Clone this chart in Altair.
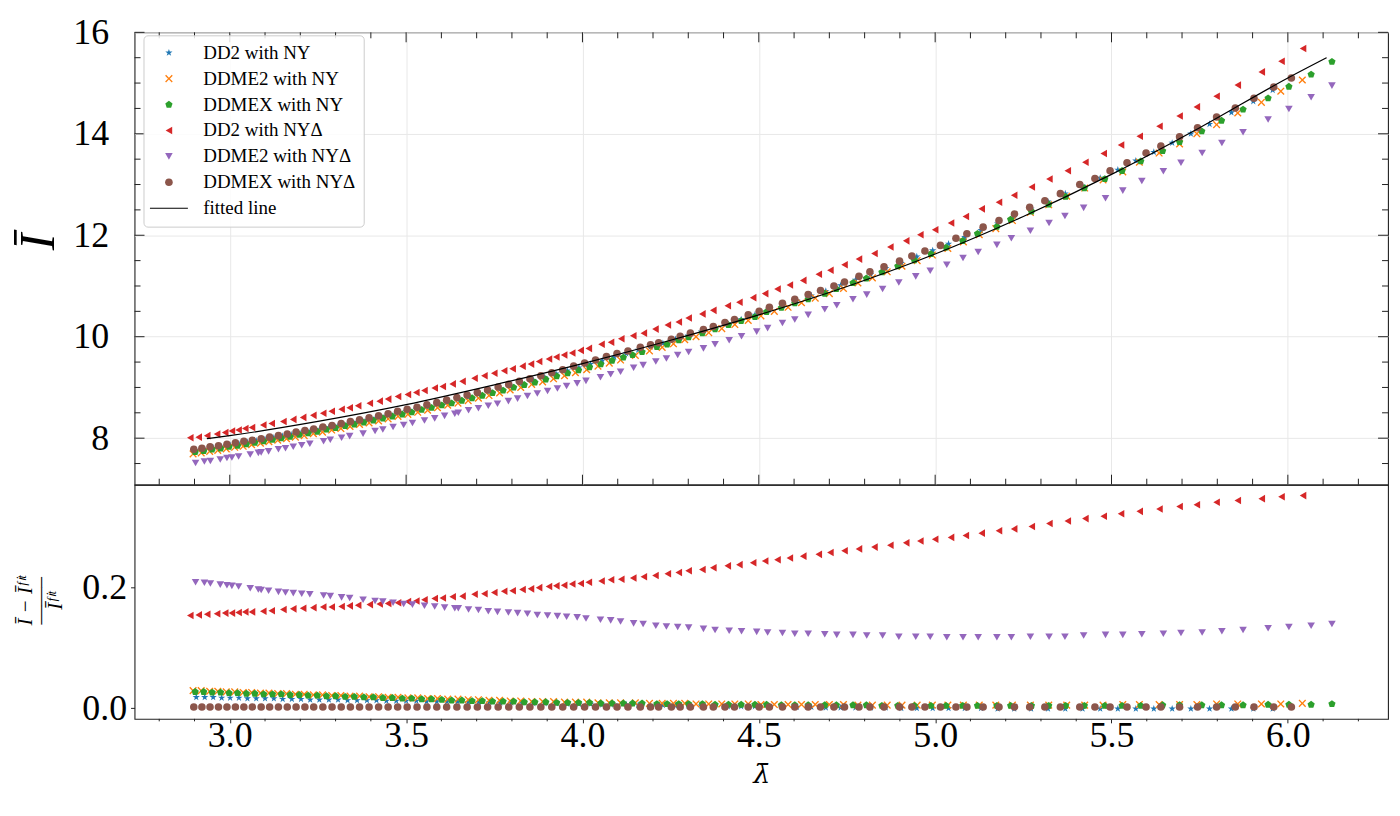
import altair as alt
import pandas as pd

SERIF = "Liberation Serif"
FRAME = "#222222"

SERIES = ["DD2 with NY", "DDME2 with NY", "DDMEX with NY",
          "DD2 with NYΔ", "DDME2 with NYΔ", "DDMEX with NYΔ", "fitted line"]
COLORS = ["#1f77b4", "#ff7f0e", "#2ca02c", "#d62728", "#9467bd", "#8c564b", "#000000"]

STAR = "M0,-1L0.2245,-0.309L0.951,-0.309L0.363,0.118L0.588,0.809L0,0.382L-0.588,0.809L-0.363,0.118L-0.951,-0.309L-0.2245,-0.309Z"
XMARK = "M-1,-0.75L-0.75,-1L0,-0.25L0.75,-1L1,-0.75L0.25,0L1,0.75L0.75,1L0,0.25L-0.75,1L-1,0.75L-0.25,0Z"
PENT = "M0,-1L0.951,-0.309L0.588,0.809L-0.588,0.809L-0.951,-0.309Z"
LINE = "M-5,-0.12L5,-0.12L5,0.12L-5,0.12Z"
SHAPES = [STAR, XMARK, PENT, "triangle-left", "triangle-down", "circle", LINE]

# ---------------- DD2 with NY (blue) ----------------
BLUE_LAM = [2.905, 2.929, 2.953, 2.977, 3.001, 3.026, 3.050, 3.075, 3.100, 3.125,
            3.150, 3.176, 3.202, 3.228, 3.254, 3.281, 3.307, 3.334, 3.361, 3.389,
            3.416, 3.444, 3.472, 3.500, 3.529, 3.558, 3.587, 3.616, 3.646, 3.676,
            3.706, 3.736, 3.767, 3.798, 3.829, 3.861, 3.893, 3.925, 3.957, 3.990,
            4.023, 4.056, 4.090, 4.124, 4.158,
            4.193, 4.228, 4.264, 4.300, 4.337, 4.374, 4.412, 4.450, 4.489, 4.528,
            4.568, 4.608, 4.649, 4.690, 4.732, 4.774, 4.817, 4.860, 4.904, 4.948,
            4.993, 5.038, 5.084, 5.130, 5.177, 5.224, 5.272, 5.320, 5.369, 5.418,
            5.468, 5.518, 5.569, 5.620, 5.672, 5.725, 5.778, 5.840, 5.902, 5.957]
BLUE_I = [7.76, 7.78, 7.81, 7.83, 7.86, 7.89, 7.92, 7.95, 7.98, 8.01,
          8.04, 8.07, 8.10, 8.14, 8.17, 8.21, 8.24, 8.28, 8.32, 8.36,
          8.40, 8.44, 8.48, 8.53, 8.57, 8.62, 8.67, 8.71, 8.76, 8.81,
          8.86, 8.92, 8.97, 9.03, 9.08, 9.14, 9.20, 9.27, 9.33, 9.39,
          9.46, 9.53, 9.60, 9.67, 9.74,
          9.80, 9.87, 9.95, 10.02, 10.10, 10.18, 10.26, 10.34, 10.43, 10.53,
          10.62, 10.71, 10.81, 10.90, 11.01, 11.12, 11.23, 11.35, 11.45, 11.58,
          11.70, 11.83, 11.96, 12.10, 12.23, 12.38, 12.52, 12.66, 12.82, 12.97,
          13.13, 13.29, 13.47, 13.64, 13.82, 14.00, 14.19, 14.42, 14.64, 14.86]
BLUE_RES = [0.018, 0.018, 0.018, 0.017, 0.017, 0.017, 0.016, 0.016, 0.016, 0.016,
            0.015, 0.015, 0.015, 0.014, 0.014, 0.014, 0.014, 0.013, 0.013, 0.013,
            0.013, 0.012, 0.012, 0.012, 0.012, 0.011, 0.011, 0.011, 0.011, 0.010,
            0.010, 0.010, 0.009, 0.009, 0.009, 0.008, 0.008, 0.008, 0.007, 0.007,
            0.007, 0.006, 0.006, 0.006, 0.005,
            0.005, 0.005, 0.004, 0.004, 0.004, 0.003, 0.003, 0.003, 0.003, 0.002,
            0.002, 0.002, 0.002, 0.001, 0.001, 0.001, 0.001, 0.001, 0.000, 0.000,
            0.000, 0.000, 0.000, 0.000, -0.001, -0.001, -0.001, -0.001, -0.001, -0.001,
            -0.001, -0.001, -0.001, -0.001, -0.001, -0.001, -0.001, -0.001, -0.001, -0.001]

# ---------------- DDME2 with NY (orange) ----------------
ORANGE_LAM = [2.896, 2.919, 2.943, 2.966, 2.990, 3.014, 3.038, 3.062, 3.087, 3.111,
              3.136, 3.161, 3.186, 3.211, 3.237, 3.263, 3.289, 3.315, 3.341, 3.368,
              3.395, 3.422, 3.449, 3.477, 3.505, 3.533, 3.561, 3.589, 3.618, 3.647,
              3.676, 3.705, 3.735, 3.765, 3.795, 3.825, 3.856, 3.887, 3.918, 3.949,
              3.980, 4.012, 4.044, 4.076, 4.108,
              4.150, 4.190, 4.226, 4.258, 4.290, 4.322, 4.358, 4.395, 4.432, 4.470,
              4.506, 4.544, 4.583, 4.621, 4.660, 4.700, 4.740, 4.781, 4.822, 4.864,
              4.906, 4.949, 4.992, 5.036, 5.080, 5.125, 5.172,
              5.219, 5.270, 5.322, 5.373, 5.424, 5.476, 5.532, 5.579, 5.635, 5.693,
              5.742, 5.798, 5.858, 5.925, 5.980, 6.041]
ORANGE_I = [7.69, 7.71, 7.74, 7.76, 7.79, 7.82, 7.84, 7.87, 7.90, 7.93,
            7.96, 7.99, 8.02, 8.05, 8.09, 8.12, 8.16, 8.19, 8.23, 8.27,
            8.30, 8.34, 8.38, 8.43, 8.47, 8.51, 8.55, 8.60, 8.65, 8.69,
            8.74, 8.79, 8.84, 8.89, 8.95, 9.00, 9.06, 9.11, 9.17, 9.23,
            9.29, 9.35, 9.42, 9.48, 9.54,
            9.63, 9.72, 9.79, 9.86, 9.94, 10.00, 10.08, 10.16, 10.24, 10.32,
            10.41, 10.50, 10.58, 10.67, 10.76, 10.85, 10.95, 11.06, 11.16, 11.28,
            11.39, 11.50, 11.61, 11.74, 11.87, 12.01, 12.13,
            12.29, 12.45, 12.60, 12.77, 12.93, 13.09, 13.25, 13.44, 13.62, 13.80,
            14.00, 14.18, 14.41, 14.62, 14.84, 15.06]
ORANGE_RES = [0.029, 0.029, 0.028, 0.028, 0.027, 0.027, 0.026, 0.026, 0.025, 0.025,
              0.024, 0.024, 0.023, 0.023, 0.022, 0.022, 0.021, 0.021, 0.020, 0.020,
              0.019, 0.019, 0.018, 0.018, 0.017, 0.017, 0.016, 0.016, 0.015, 0.015,
              0.014, 0.014, 0.013, 0.013, 0.012, 0.012, 0.011, 0.011, 0.011, 0.010,
              0.010, 0.010, 0.009, 0.009, 0.009,
              0.009, 0.008, 0.008, 0.008, 0.008, 0.007, 0.007, 0.007, 0.007, 0.007,
              0.006, 0.006, 0.006, 0.006, 0.006, 0.006, 0.006, 0.005, 0.005, 0.005,
              0.005, 0.005, 0.005, 0.005, 0.005, 0.005, 0.005,
              0.005, 0.005, 0.005, 0.005, 0.005, 0.005, 0.006, 0.006, 0.006, 0.006,
              0.006, 0.007, 0.007, 0.007, 0.007, 0.008]

# ---------------- DDMEX with NY (green) ----------------
GREEN_LAM = [2.902, 2.926, 2.950, 2.974, 2.998, 3.022, 3.047, 3.071, 3.096, 3.121,
             3.146, 3.171, 3.197, 3.222, 3.248, 3.274, 3.300, 3.327, 3.353, 3.380,
             3.407, 3.434, 3.461, 3.489, 3.516, 3.544, 3.572, 3.601, 3.629, 3.658,
             3.687, 3.716, 3.745, 3.775, 3.805, 3.835, 3.865, 3.896, 3.927, 3.958,
             3.989, 4.020, 4.052, 4.084, 4.116, 4.142,
             4.169, 4.211, 4.240, 4.273, 4.301, 4.340, 4.376, 4.414, 4.450, 4.489,
             4.522, 4.564, 4.602, 4.640, 4.687, 4.720, 4.767, 4.805, 4.849, 4.894,
             4.941, 4.988, 5.031, 5.078, 5.120, 5.175,
             5.214, 5.273, 5.322, 5.370, 5.423, 5.481, 5.530, 5.583, 5.645, 5.693,
             5.756, 5.812, 5.873, 5.944, 6.003, 6.066, 6.125]
GREEN_I = [7.73, 7.75, 7.78, 7.80, 7.83, 7.85, 7.88, 7.91, 7.94, 7.97,
           8.00, 8.03, 8.07, 8.10, 8.13, 8.17, 8.20, 8.24, 8.27, 8.31,
           8.35, 8.39, 8.43, 8.47, 8.51, 8.56, 8.60, 8.65, 8.69, 8.74,
           8.79, 8.84, 8.89, 8.94, 9.00, 9.05, 9.10, 9.16, 9.22, 9.28,
           9.34, 9.40, 9.46, 9.53, 9.59, 9.64,
           9.70, 9.80, 9.85, 9.93, 9.99, 10.07, 10.15, 10.23, 10.31, 10.39,
           10.49, 10.57, 10.66, 10.74, 10.85, 10.94, 11.06, 11.15, 11.27, 11.39,
           11.51, 11.63, 11.76, 11.89, 12.03, 12.17,
           12.31, 12.47, 12.61, 12.76, 12.93, 13.11, 13.27, 13.46, 13.66, 13.84,
           14.05, 14.26, 14.48, 14.70, 14.93, 15.17, 15.42]
GREEN_RES = [0.027, 0.027, 0.026, 0.026, 0.025, 0.025, 0.024, 0.024, 0.023, 0.023,
             0.023, 0.022, 0.022, 0.021, 0.021, 0.020, 0.020, 0.019, 0.019, 0.018,
             0.018, 0.017, 0.017, 0.016, 0.016, 0.015, 0.015, 0.014, 0.013, 0.013,
             0.012, 0.012, 0.011, 0.011, 0.011, 0.010, 0.010, 0.010, 0.009, 0.009,
             0.009, 0.009, 0.008, 0.008, 0.008, 0.008, 0.008, 0.007, 0.007, 0.007,
             0.007, 0.007, 0.006, 0.006, 0.006, 0.006, 0.006, 0.005, 0.005, 0.005,
             0.005, 0.005, 0.005, 0.005, 0.004, 0.004, 0.004, 0.004, 0.004, 0.004,
             0.004, 0.004, 0.004, 0.004, 0.004, 0.004, 0.004, 0.004, 0.004, 0.004,
             0.005, 0.005, 0.005, 0.005, 0.005, 0.006, 0.006, 0.006, 0.007]

# ---------------- DD2 with NYΔ (red) ----------------
RED_LAM = [2.888, 2.912, 2.936, 2.964, 2.987, 3.006, 3.025, 3.044, 3.063, 3.095,
           3.119, 3.152, 3.180, 3.208, 3.237, 3.265, 3.289, 3.317, 3.340, 3.364,
           3.397, 3.425, 3.449, 3.477, 3.505, 3.529, 3.552, 3.581, 3.604, 3.632,
           3.660, 3.694, 3.722, 3.750, 3.778, 3.802, 3.830, 3.854, 3.877, 3.905,
           3.926, 3.948, 3.971, 3.995,
           4.018, 4.054, 4.081, 4.110, 4.144, 4.174, 4.207, 4.242, 4.273, 4.301,
           4.340, 4.371, 4.412, 4.445, 4.484, 4.518, 4.553, 4.588, 4.626, 4.670,
           4.703, 4.743, 4.784, 4.828, 4.873, 4.918, 4.958, 5.000, 5.045, 5.087,
           5.132, 5.181, 5.224,
           5.274, 5.324, 5.376, 5.426, 5.478, 5.527, 5.580, 5.636, 5.693, 5.742,
           5.798, 5.858, 5.926, 5.982, 6.043]
RED_I = [8.01, 8.02, 8.05, 8.08, 8.11, 8.14, 8.16, 8.19, 8.21, 8.26,
         8.29, 8.33, 8.37, 8.41, 8.45, 8.49, 8.53, 8.57, 8.60, 8.64,
         8.69, 8.73, 8.77, 8.82, 8.86, 8.90, 8.94, 8.99, 9.02, 9.07,
         9.12, 9.18, 9.23, 9.28, 9.33, 9.37, 9.42, 9.46, 9.51, 9.56,
         9.60, 9.64, 9.68, 9.73,
         9.77, 9.85, 9.89, 9.96, 10.02, 10.07, 10.15, 10.23, 10.29, 10.37,
         10.45, 10.52, 10.61, 10.68, 10.77, 10.85, 10.94, 11.02, 11.11, 11.23,
         11.31, 11.42, 11.53, 11.64, 11.77, 11.89, 12.01, 12.11, 12.24, 12.37,
         12.52, 12.65, 12.79,
         12.95, 13.11, 13.27, 13.44, 13.61, 13.78, 13.95, 14.15, 14.35, 14.53,
         14.74, 14.96, 15.22, 15.43, 15.68]
RED_RES = [0.153, 0.154, 0.155, 0.156, 0.157, 0.157, 0.158, 0.159, 0.159, 0.160,
           0.161, 0.163, 0.164, 0.165, 0.166, 0.167, 0.167, 0.168, 0.169, 0.170,
           0.171, 0.172, 0.173, 0.174, 0.176, 0.177, 0.179, 0.181, 0.182, 0.184,
           0.185, 0.188, 0.189, 0.191, 0.193, 0.194, 0.196, 0.197, 0.199, 0.201,
           0.202, 0.203, 0.205, 0.206,
           0.208, 0.210, 0.212, 0.213, 0.215, 0.217, 0.219, 0.222, 0.224, 0.227,
           0.229, 0.232, 0.235, 0.237, 0.240, 0.243, 0.245, 0.248, 0.251, 0.254,
           0.257, 0.260, 0.263, 0.266, 0.269, 0.273, 0.276, 0.279, 0.282, 0.285,
           0.289, 0.293, 0.296,
           0.300, 0.305, 0.309, 0.313, 0.317, 0.321, 0.325, 0.329, 0.333, 0.336,
           0.340, 0.343, 0.346, 0.349, 0.351]

# ---------------- DDME2 with NYΔ (purple) ----------------
PURPLE_LAM = [2.903, 2.928, 2.945, 2.973, 2.992, 3.006, 3.025, 3.058, 3.081, 3.089,
              3.110, 3.138, 3.158, 3.180, 3.204, 3.227, 3.266, 3.285, 3.317, 3.340,
              3.378, 3.412, 3.434, 3.463, 3.493, 3.518, 3.552, 3.581, 3.609, 3.638,
              3.648, 3.677, 3.705, 3.733, 3.759, 3.790, 3.816, 3.844, 3.872, 3.901,
              3.929, 3.955, 3.985, 4.010, 4.051, 4.080, 4.108, 4.145,
              4.172, 4.208, 4.238, 4.270,
              4.301, 4.343, 4.376, 4.416, 4.451, 4.494, 4.525, 4.567, 4.602, 4.640,
              4.687, 4.721, 4.767, 4.806, 4.851, 4.897, 4.945, 4.986, 5.033, 5.079,
              5.122, 5.175, 5.216, 5.270, 5.323, 5.368, 5.421, 5.483, 5.532, 5.586,
              5.647, 5.697, 5.757, 5.813, 5.873, 5.944, 6.003, 6.066, 6.125]
PURPLE_I = [7.51, 7.54, 7.55, 7.58, 7.61, 7.62, 7.64, 7.68, 7.71, 7.72,
            7.74, 7.78, 7.80, 7.83, 7.86, 7.89, 7.94, 7.97, 8.01, 8.04,
            8.09, 8.14, 8.17, 8.22, 8.26, 8.30, 8.35, 8.39, 8.44, 8.48,
            8.50, 8.55, 8.59, 8.64, 8.68, 8.73, 8.78, 8.83, 8.88, 8.93,
            8.98, 9.03, 9.08, 9.13, 9.20, 9.26, 9.31, 9.39,
            9.44, 9.51, 9.57, 9.64,
            9.70, 9.77, 9.85, 9.93, 10.01, 10.10, 10.17, 10.27, 10.34, 10.43,
            10.54, 10.62, 10.74, 10.83, 10.94, 11.07, 11.19, 11.30, 11.42, 11.55,
            11.67, 11.81, 11.94, 12.09, 12.24, 12.38, 12.54, 12.73, 12.88, 13.07,
            13.26, 13.43, 13.62, 13.82, 14.03, 14.28, 14.49, 14.72, 14.95]
PURPLE_RES = [0.208, 0.207, 0.206, 0.204, 0.203, 0.202, 0.201, 0.198, 0.196, 0.195,
              0.194, 0.192, 0.191, 0.190, 0.189, 0.188, 0.186, 0.185, 0.183, 0.182,
              0.179, 0.177, 0.176, 0.174, 0.172, 0.171, 0.169, 0.168, 0.166, 0.165,
              0.165, 0.163, 0.162, 0.160, 0.159, 0.158, 0.157, 0.156, 0.154, 0.153,
              0.152, 0.151, 0.150, 0.148, 0.146, 0.145, 0.143, 0.140,
              0.139, 0.136, 0.135, 0.134,
              0.133, 0.131, 0.129, 0.128, 0.127, 0.126, 0.125, 0.124, 0.123, 0.123,
              0.122, 0.121, 0.121, 0.120, 0.120, 0.118, 0.118, 0.118, 0.117, 0.117,
              0.117, 0.117, 0.117, 0.118, 0.118, 0.118, 0.120, 0.121, 0.121, 0.122,
              0.123, 0.124, 0.125, 0.127, 0.129, 0.132, 0.134, 0.136, 0.139]

# ---------------- DDMEX with NYΔ (brown) ----------------
BROWN_LAM = [2.898, 2.921, 2.944, 2.968, 2.992, 3.016, 3.040, 3.064, 3.089, 3.113,
             3.138, 3.163, 3.188, 3.213, 3.238, 3.264, 3.290, 3.316, 3.342, 3.368,
             3.395, 3.422, 3.449, 3.476, 3.503, 3.531, 3.559, 3.587, 3.615, 3.644,
             3.673, 3.702, 3.731, 3.761, 3.791, 3.821, 3.851, 3.882, 3.913, 3.944,
             3.975, 4.006, 4.037, 4.068,
             4.098, 4.129, 4.164, 4.193, 4.216, 4.252, 4.277, 4.306, 4.343, 4.371,
             4.404, 4.431, 4.470, 4.501, 4.530, 4.567, 4.602, 4.640, 4.675, 4.713,
             4.743, 4.784, 4.815, 4.855, 4.899, 4.934, 4.971, 5.015, 5.059, 5.090,
             5.136, 5.181, 5.225,
             5.268, 5.311, 5.355, 5.410, 5.453, 5.496, 5.544, 5.598, 5.640, 5.693,
             5.744, 5.798, 5.851, 5.904, 5.960, 6.010]
BROWN_I = [7.78, 7.80, 7.83, 7.85, 7.88, 7.91, 7.94, 7.96, 7.99, 8.02,
           8.05, 8.08, 8.12, 8.15, 8.18, 8.22, 8.25, 8.29, 8.33, 8.36,
           8.40, 8.44, 8.48, 8.53, 8.57, 8.61, 8.66, 8.70, 8.75, 8.80,
           8.85, 8.90, 8.95, 9.01, 9.06, 9.12, 9.17, 9.23, 9.29, 9.35,
           9.42, 9.48, 9.54, 9.61,
           9.67, 9.72, 9.79, 9.84, 9.88, 9.95, 10.01, 10.07, 10.14, 10.20,
           10.28, 10.34, 10.43, 10.50, 10.58, 10.66, 10.74, 10.83, 10.91, 11.00,
           11.08, 11.19, 11.28, 11.38, 11.49, 11.59, 11.69, 11.80, 11.94, 12.03,
           12.16, 12.29, 12.42,
           12.55, 12.68, 12.82, 13.00, 13.12, 13.27, 13.43, 13.62, 13.76, 13.94,
           14.12, 14.33, 14.51, 14.70, 14.92, 15.10]
BROWN_RES = [0.002, 0.002, 0.002, 0.002, 0.002, 0.002, 0.002, 0.002, 0.002, 0.002,
             0.002, 0.002, 0.002, 0.002, 0.002, 0.002, 0.002, 0.002, 0.002, 0.002,
             0.002, 0.002, 0.002, 0.002, 0.002, 0.002, 0.002, 0.002, 0.002, 0.002,
             0.002, 0.002, 0.002, 0.002, 0.002, 0.002, 0.002, 0.002, 0.002, 0.002,
             0.002, 0.002, 0.002, 0.002,
             0.002, 0.002, 0.002, 0.002, 0.002, 0.002, 0.002, 0.002, 0.002, 0.002,
             0.002, 0.002, 0.002, 0.002, 0.002, 0.002, 0.002, 0.002, 0.002, 0.002,
             0.002, 0.002, 0.002, 0.002, 0.002, 0.002, 0.002, 0.002, 0.002, 0.002,
             0.002, 0.002, 0.002,
             0.002, 0.002, 0.002, 0.002, 0.002, 0.002, 0.002, 0.002, 0.002, 0.002,
             0.002, 0.002, 0.002, 0.002, 0.002, 0.002]

# ---------------- fitted line ----------------
FIT_LAM = [2.935, 3.0, 3.25, 3.5, 3.75, 4.0, 4.25, 4.5, 4.75, 5.0, 5.25, 5.5, 5.75, 6.0, 6.11]
FIT_I = [7.99, 8.05, 8.33, 8.66, 9.05, 9.47, 9.93, 10.43, 10.99, 11.63, 12.37, 13.20, 14.12, 15.10, 15.50]

# ---------------- axes ----------------
X_MAJOR = [3.0, 3.5, 4.0, 4.5, 5.0, 5.5, 6.0]
X_MINOR = [2.8, 2.9, 3.1, 3.2, 3.3, 3.4, 3.6, 3.7, 3.8, 3.9, 4.1, 4.2, 4.3, 4.4,
           4.6, 4.7, 4.8, 4.9, 5.1, 5.2, 5.3, 5.4, 5.6, 5.7, 5.8, 5.9, 6.1, 6.2]
YU_MAJOR = [8, 10, 12, 14, 16]
YU_MINOR = [7.5, 8.5, 9.0, 9.5, 10.5, 11.0, 11.5, 12.5, 13.0, 13.5, 14.5, 15.0, 15.5]
YL_MAJOR = [0.0, 0.2]

W = 1258
H1 = 454
H2 = 235
LABEL_FS = 36
MSIZE = 58

xs = alt.Scale(domain=[2.730, 6.284], nice=False, zero=False)
ys_up = alt.Scale(domain=[7.083, 16.0], nice=False, zero=False)
ys_lo = alt.Scale(domain=[-0.0176, 0.369], nice=False, zero=False)

AX_UP_X = alt.Axis(values=X_MAJOR, labels=False, ticks=False, domain=False, grid=True, title=None)
AX_UP_Y = alt.Axis(
    values=YU_MAJOR, format="d", ticks=False, domain=False, grid=True,
    labelPadding=26, labelFontSize=LABEL_FS,
    title="Ī", titleFontSize=50, titleFontStyle="italic",
    titleX=-81, titleY=210, titleAngle=270, titleBaseline="alphabetic",
    titleAlign="center")
AX_LO_X = alt.Axis(
    values=X_MAJOR, format=".1f", tickSize=4, tickColor=FRAME, domain=False, grid=False,
    labelPadding=-4, labelFontSize=LABEL_FS,
    title="λ\u0304", titleFont="DejaVu Serif", titleFontSize=27, titleFontStyle="italic",
    titleY=64, titleBaseline="alphabetic", titleAlign="center")
AX_LO_Y = alt.Axis(
    values=YL_MAJOR, format=".1f", tickSize=4, tickColor=FRAME, domain=False, grid=False,
    labelPadding=4, labelFontSize=LABEL_FS,
    title=["Ī − Īᶠⁱᵗ", "——–", "Īᶠⁱᵗ"], titleFontSize=21, titleFontStyle="italic",
    titleLineHeight=15, titleX=-103, titleY=116, titleAngle=270,
    titleBaseline="alphabetic", titleAlign="center")

groups = [
    (SERIES[0], BLUE_LAM, BLUE_I, BLUE_RES),
    (SERIES[1], ORANGE_LAM, ORANGE_I, ORANGE_RES),
    (SERIES[2], GREEN_LAM, GREEN_I, GREEN_RES),
    (SERIES[3], RED_LAM, RED_I, RED_RES),
    (SERIES[4], PURPLE_LAM, PURPLE_I, PURPLE_RES),
    (SERIES[5], BROWN_LAM, BROWN_I, BROWN_RES),
]
up_rows, lo_rows = [], []
for name, lam, iv, rv in groups:
    for a, b in zip(lam, iv):
        up_rows.append({"lam": a, "v": b, "series": name})
    for a, b in zip(lam, rv):
        lo_rows.append({"lam": a, "v": b, "series": name})
df_up = pd.DataFrame(up_rows)
df_lo = pd.DataFrame(lo_rows)
df_fit = pd.DataFrame({"lam": FIT_LAM, "v": FIT_I})

legend = alt.Legend(
    title=None, orient="none", legendX=9, legendY=3,
    labelFont=SERIF, labelFontSize=19, labelColor="black",
    symbolSize=MSIZE, symbolStrokeWidth=0, symbolOffset=8, labelOffset=25,
    rowPadding=6, padding=8, fillColor="rgba(255,255,255,0.85)",
    strokeColor="#cccccc", cornerRadius=4, labelLimit=400,
)
color_up = alt.Color("series:N", scale=alt.Scale(domain=SERIES, range=COLORS), legend=legend)
shape_up = alt.Shape("series:N", scale=alt.Scale(domain=SERIES, range=SHAPES), legend=legend)
color_lo = alt.Color("series:N", scale=alt.Scale(domain=SERIES, range=COLORS), legend=None)
shape_lo = alt.Shape("series:N", scale=alt.Scale(domain=SERIES, range=SHAPES), legend=None)


def hticks(values, x0, x1, yscale, yaxis):
    return alt.Chart(pd.DataFrame({"v": values})).mark_rule(color=FRAME, strokeWidth=1).encode(
        y=alt.Y("v:Q", scale=yscale, axis=yaxis), x=alt.value(x0), x2=alt.value(x1))


def vticks(values, y0, y1, xaxis):
    return alt.Chart(pd.DataFrame({"lam": values})).mark_rule(color=FRAME, strokeWidth=1).encode(
        x=alt.X("lam:Q", scale=xs, axis=xaxis), y=alt.value(y0), y2=alt.value(y1))


MAJ, MIN = 10, 6

up_points = alt.Chart(df_up).mark_point(filled=True, size=MSIZE, opacity=1).encode(
    x=alt.X("lam:Q", scale=xs, axis=AX_UP_X),
    y=alt.Y("v:Q", scale=ys_up, axis=AX_UP_Y),
    color=color_up, shape=shape_up,
)
fit_line = alt.Chart(df_fit).mark_line(color="black", strokeWidth=1.2, interpolate="monotone").encode(
    x=alt.X("lam:Q", scale=xs, axis=AX_UP_X), y=alt.Y("v:Q", scale=ys_up, axis=AX_UP_Y))

upper = alt.layer(
    up_points, fit_line,
    hticks(YU_MAJOR, 0, MAJ, ys_up, AX_UP_Y), hticks(YU_MINOR, 0, MIN, ys_up, AX_UP_Y),
    hticks(YU_MAJOR, W - MAJ, W, ys_up, AX_UP_Y), hticks(YU_MINOR, W - MIN, W, ys_up, AX_UP_Y),
    vticks(X_MAJOR, 0, MAJ, AX_UP_X), vticks(X_MINOR, 0, MIN, AX_UP_X),
    vticks(X_MAJOR, H1 - MAJ, H1, AX_UP_X), vticks(X_MINOR, H1 - MIN, H1, AX_UP_X),
).properties(width=W, height=H1)

lo_points = alt.Chart(df_lo).mark_point(filled=True, size=MSIZE, opacity=1).encode(
    x=alt.X("lam:Q", scale=xs, axis=AX_LO_X),
    y=alt.Y("v:Q", scale=ys_lo, axis=AX_LO_Y),
    color=color_lo, shape=shape_lo,
)
lower = alt.layer(
    lo_points,
    vticks(X_MINOR, H2, H2 + 2.5, AX_LO_X),
).properties(width=W, height=H2)

chart = alt.vconcat(
    upper, lower, spacing=0, bounds="flush",
    padding={"left": 5, "top": 4, "right": 2, "bottom": 4},
).configure_view(
    stroke=FRAME, strokeWidth=1.1
).configure_axis(
    labelFont=SERIF, titleFont=SERIF, labelColor="black", titleColor="black",
    titleFontWeight="normal", gridColor="#e8e8e8", gridWidth=1,
)

chart.save("out.html", embed_options={"renderer": "svg", "actions": False})
